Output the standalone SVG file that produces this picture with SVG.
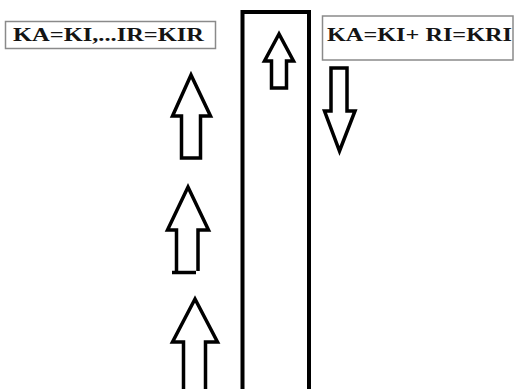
<svg xmlns="http://www.w3.org/2000/svg" width="516" height="389" viewBox="0 0 516 389">
<style>
.box{fill:#fff;stroke:#8a8a8a;stroke-width:1.5}
.lbl{font-family:"Liberation Serif",serif;font-weight:bold;font-size:18px;fill:#141414}
.arr{fill:#fff;stroke:#000;stroke-width:3.5;stroke-linejoin:miter}
.col{fill:none;stroke:#000;stroke-width:4}
</style>
<rect width="516" height="389" fill="#fff"/>
<g id="column">
<path class="col" d="M242.5,392 V12 H309 V392"/>
</g>
<g id="label-left">
<rect class="box" x="5.5" y="21.5" width="210" height="27"/>
<text class="lbl" x="13" y="40.5" textLength="191" lengthAdjust="spacingAndGlyphs">KA=KI,...IR=KIR</text>
</g>
<g id="label-right">
<rect class="box" x="322.5" y="16" width="190.5" height="44"/>
<text class="lbl" x="327" y="40.5" textLength="185" lengthAdjust="spacingAndGlyphs">KA=KI+ RI=KRI</text>
</g>
<g id="connectors">
<g id="arrow-inner-up">
<path class="arr" d="M279,34 L264.5,61 H271.5 V88 H286.5 V61 H293.5 Z"/>
</g>
<g id="arrow-down">
<path class="arr" d="M331,68 H347 V111 H355 L339.5,151 L324.5,111 H331 Z"/>
</g>
<g id="arrow-up-1">
<path class="arr" d="M191,75 L172.5,116 H181.5 V158 H200.5 V116 H210.5 Z"/>
</g>
<g id="arrow-up-2">
<path class="arr" d="M176.5,272 V230 H167.5 L188,187 L208.5,230 H198 V271"/>
<path class="arr" d="M172,272.5 H196"/>
</g>
<g id="arrow-up-3">
<path class="arr" d="M195,299 L172.5,342 H183.5 V392 H205.5 V342 H217.5 Z"/>
</g>
</g>
</svg>
